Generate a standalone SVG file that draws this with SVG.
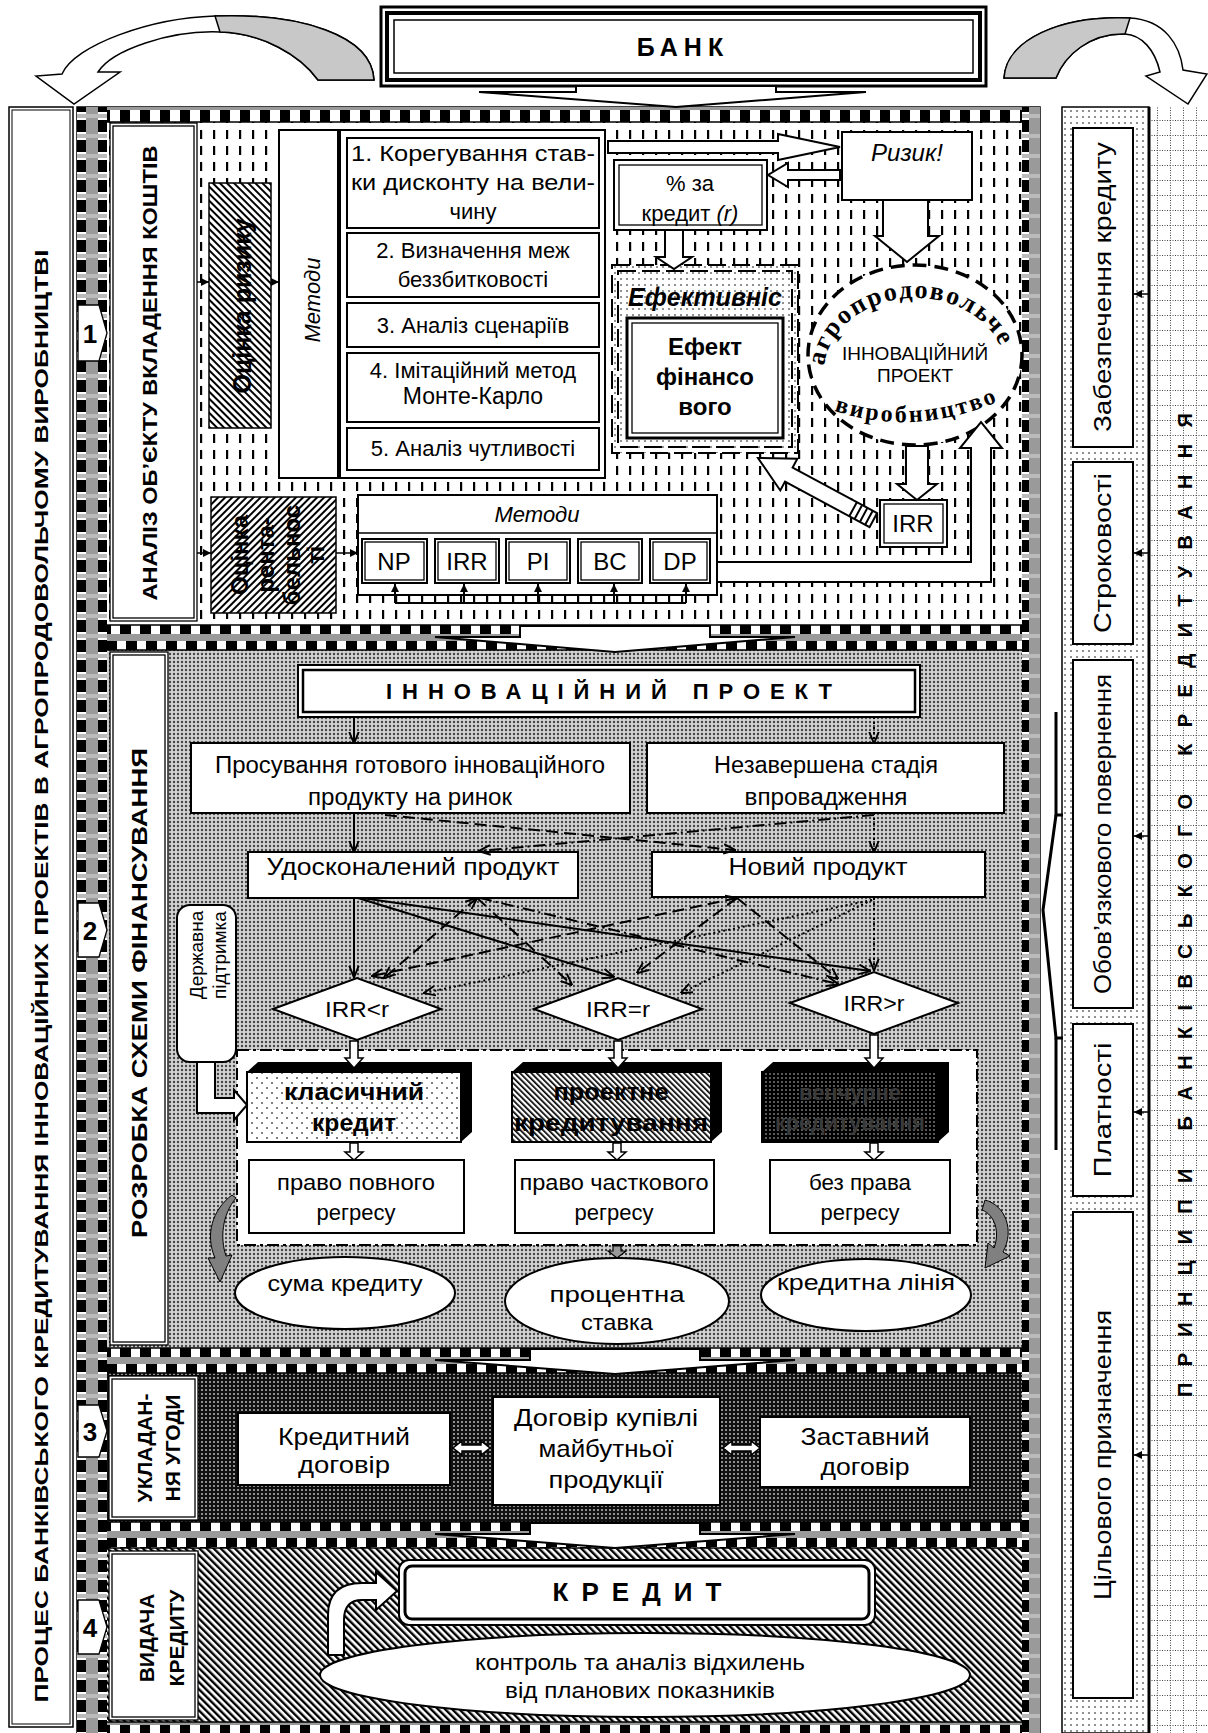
<svg xmlns="http://www.w3.org/2000/svg" width="1208" height="1733" viewBox="0 0 1208 1733">
<defs>
<style>
text{font-family:"Liberation Sans",Arial,sans-serif;fill:#000}
.n{font-family:"Liberation Sans Narrow","Liberation Sans",Arial,sans-serif}
.sr{font-family:"Liberation Serif","Times New Roman",serif;font-weight:bold}
.b{font-weight:bold}
.i{font-style:italic}
.m{text-anchor:middle}
.w{fill:#fff;stroke:#000;stroke-width:2}
.w1{fill:#fff;stroke:#000;stroke-width:1.3}
.no{fill:none;stroke:#000;stroke-width:1.3}
.ar{fill:#fff;stroke:#000;stroke-width:2;stroke-linejoin:miter}
.sl{stroke:#000;stroke-width:2;fill:none}
.ds{stroke:#000;stroke-width:2;fill:none;stroke-dasharray:12 6}
.dd{stroke:#000;stroke-width:2;fill:none;stroke-dasharray:12 4 2 4}
.dt{stroke:#000;stroke-width:2;fill:none;stroke-dasharray:2 3}
.blk{fill:#000}
</style>
<marker id="ah" viewBox="0 0 10 10" refX="9.5" refY="5" markerWidth="12" markerHeight="12" markerUnits="userSpaceOnUse" orient="auto-start-reverse"><path d="M0,1 L10,5 L0,9" fill="none" stroke="#000" stroke-width="1.6"/></marker>
<marker id="sa" viewBox="0 0 10 10" refX="10" refY="5" markerWidth="8" markerHeight="8" markerUnits="userSpaceOnUse" orient="auto"><path d="M0,0 L10,5 L0,10 Z" fill="#000"/></marker>
<pattern id="pVd" width="13" height="16" patternUnits="userSpaceOnUse"><rect width="13" height="16" fill="#fff"/><rect x="5" y="2" width="2.2" height="9" fill="#000"/></pattern>
<pattern id="pGr" width="4" height="4" patternUnits="userSpaceOnUse"><rect width="4" height="4" fill="#d2d2d2"/><circle cx="2" cy="2" r="1.2" fill="#444"/></pattern>
<pattern id="pDk" width="4" height="4" patternUnits="userSpaceOnUse"><rect width="4" height="4" fill="#111"/><circle cx="2" cy="2" r="1" fill="#bbb"/></pattern>
<pattern id="pH4" width="5" height="5" patternUnits="userSpaceOnUse" patternTransform="rotate(-45)"><rect width="5" height="5" fill="#fff"/><rect width="2.4" height="5" fill="#000"/></pattern>
<pattern id="pHr" width="5" height="5" patternUnits="userSpaceOnUse" patternTransform="rotate(-45)"><rect width="5" height="5" fill="#fff"/><rect width="2" height="5" fill="#000"/></pattern>
<pattern id="pHl" width="5" height="5" patternUnits="userSpaceOnUse" patternTransform="rotate(45)"><rect width="5" height="5" fill="#fff"/><rect width="2" height="5" fill="#000"/></pattern>
<pattern id="pFd" width="6" height="6" patternUnits="userSpaceOnUse"><rect width="6" height="6" fill="#fff"/><circle cx="3" cy="3" r="1.1" fill="#777"/></pattern>
<pattern id="pCl" width="10" height="10" patternUnits="userSpaceOnUse"><rect width="10" height="10" fill="#fff"/><circle cx="2" cy="3" r="1" fill="#555"/><circle cx="7" cy="8" r="1" fill="#555"/></pattern>
<pattern id="pPr" width="4" height="4" patternUnits="userSpaceOnUse" patternTransform="rotate(-45)"><rect width="4" height="4" fill="#fff"/><rect width="1.7" height="4" fill="#000"/></pattern>
<pattern id="pVn" width="4" height="4" patternUnits="userSpaceOnUse"><rect width="4" height="4" fill="#000"/><circle cx="2" cy="2" r="1" fill="#777"/></pattern>
<pattern id="pGd" width="13" height="15" patternUnits="userSpaceOnUse"><rect width="13" height="15" fill="#fff"/><line x1="0.5" y1="0" x2="0.5" y2="15" stroke="#444" stroke-dasharray="1 1.5"/><line x1="0" y1="0.5" x2="13" y2="0.5" stroke="#444" stroke-dasharray="1 1.5"/></pattern>
<pattern id="pSv" x="77" width="30" height="20" patternUnits="userSpaceOnUse"><rect width="30" height="20" fill="#fff"/><rect x="9" width="12" height="20" fill="#9a9a9a"/><rect width="9" height="12" fill="#000"/><rect x="21" width="9" height="12" fill="#000"/><rect y="14" width="30" height="4" fill="#bbb"/></pattern>
<pattern id="pSr" x="1022" width="18" height="20" patternUnits="userSpaceOnUse"><rect width="18" height="20" fill="#fff"/><rect x="7" width="11" height="20" fill="#9a9a9a"/><rect width="7" height="12" fill="#000"/><rect y="14" width="18" height="4" fill="#bbb"/></pattern>
<pattern id="pSh" width="20" height="25" patternUnits="userSpaceOnUse"><rect width="20" height="25" fill="#fff"/><rect y="9" width="20" height="7" fill="#9a9a9a"/><rect width="11" height="9" fill="#000"/><rect x="6" y="16" width="11" height="9" fill="#000"/></pattern>
<pattern id="pSt" width="20" height="15" patternUnits="userSpaceOnUse"><rect width="20" height="15" fill="#fff"/><rect y="0" width="20" height="3" fill="#9a9a9a"/><rect y="3" width="10" height="12" fill="#000"/></pattern>
<clipPath id="cR"><rect x="211" y="497" width="125" height="116"/></clipPath>
</defs>

<!-- top: bank -->
<g id="bank">
<rect x="381" y="7" width="605" height="79" fill="#fff" stroke="#000" stroke-width="3"/>
<rect x="387" y="13" width="593" height="67" fill="none" stroke="#000" stroke-width="4"/>
<rect x="394" y="20" width="579" height="53" fill="#fff" stroke="#000" stroke-width="1.5"/>
<text x="683" y="56" class="b m" font-size="25" letter-spacing="6">БАНК</text>
</g>
<g id="curved-arrows">
<path d="M374,80 C372,35 300,13 215,16 C150,18 75,45 62,74 L36,76 L74,104 L120,72 L98,72 C112,50 170,30 220,32 C262,33 300,55 318,80 Z" fill="#fff" stroke="#000" stroke-width="1.5"/>
<path d="M374,80 C372,35 300,13 215,16 L220,32 C262,33 300,55 318,80 Z" fill="#c8c8c8" stroke="#000" stroke-width="1.5"/>
<path d="M1004,78 C1006,40 1060,15 1130,18 C1165,20 1180,45 1183,70 L1207,74 L1188,104 L1146,76 L1160,72 C1155,50 1142,35 1125,34 C1090,33 1065,55 1056,78 Z" fill="#fff" stroke="#000" stroke-width="1.5"/>
<path d="M1004,78 C1006,40 1060,15 1130,18 L1125,34 C1090,33 1065,55 1056,78 Z" fill="#c8c8c8" stroke="#000" stroke-width="1.5"/>
</g>

<!-- left column -->
<g id="process-title">
<rect x="9" y="107" width="64" height="1620" fill="#fff" stroke="#000" stroke-width="1.5"/>
<rect x="12" y="110" width="58" height="1614" fill="none" stroke="#000" stroke-width="1"/>
<text transform="translate(48,976) rotate(-90)" class="b m" font-size="19" textLength="1453" lengthAdjust="spacingAndGlyphs">ПРОЦЕС БАНКІВСЬКОГО КРЕДИТУВАННЯ ІННОВАЦІЙНИХ ПРОЕКТІВ В АГРОПРОДОВОЛЬЧОМУ ВИРОБНИЦТВІ</text>
</g>

<!-- main frame -->
<g id="frame">
<rect x="77" y="107" width="963" height="1626" fill="#fff" stroke="#000" stroke-width="1.5"/>
<rect x="107" y="122" width="915" height="503" fill="url(#pVd)"/>
<rect x="107" y="650" width="915" height="698" fill="url(#pGr)"/>
<rect x="107" y="1373" width="915" height="149" fill="url(#pDk)"/>
<rect x="107" y="1548" width="915" height="174" fill="url(#pH4)"/>
<rect x="77" y="107" width="30" height="1626" fill="url(#pSv)"/>
<rect x="1022" y="107" width="18" height="1626" fill="url(#pSr)"/>
<g transform="translate(0,107)"><rect x="107" y="0" width="915" height="15" fill="url(#pSt)"/></g>
<g transform="translate(0,1722)"><rect x="107" y="0" width="915" height="11" fill="url(#pSt)"/></g>
<g transform="translate(0,625)"><rect x="107" y="0" width="915" height="25" fill="url(#pSh)"/></g>
<g transform="translate(0,1348)"><rect x="107" y="0" width="915" height="25" fill="url(#pSh)"/></g>
<g transform="translate(0,1522)"><rect x="107" y="0" width="915" height="26" fill="url(#pSh)"/></g>
<line x1="107" y1="122" x2="1022" y2="122" stroke="#000" stroke-width="1.5"/>
<line x1="107" y1="625" x2="1022" y2="625" stroke="#000" stroke-width="1.5"/>
<line x1="107" y1="650" x2="1022" y2="650" stroke="#000" stroke-width="1.5"/>
<line x1="107" y1="1348" x2="1022" y2="1348" stroke="#000" stroke-width="1.5"/>
<line x1="107" y1="1373" x2="1022" y2="1373" stroke="#000" stroke-width="1.5"/>
<line x1="107" y1="1522" x2="1022" y2="1522" stroke="#000" stroke-width="1.5"/>
<line x1="107" y1="1548" x2="1022" y2="1548" stroke="#000" stroke-width="1.5"/>
<line x1="107" y1="1722" x2="1022" y2="1722" stroke="#000" stroke-width="1.5"/>
</g>

<!-- stage labels -->
<g id="stage1-label">
<rect x="110" y="123" width="87" height="498" class="w1"/><rect x="113" y="126" width="81" height="492" class="no"/>
<text transform="translate(157,373) rotate(-90)" class="b m" font-size="20" textLength="455" lengthAdjust="spacingAndGlyphs">АНАЛІЗ ОБ’ЄКТУ ВКЛАДЕННЯ КОШТІВ</text>
</g>
<g id="stage2-label">
<rect x="110" y="652" width="58" height="693" class="w1"/><rect x="113" y="655" width="52" height="687" class="no"/>
<text transform="translate(147,993) rotate(-90)" class="b m" font-size="22" textLength="490" lengthAdjust="spacingAndGlyphs">РОЗРОБКА СХЕМИ ФІНАНСУВАННЯ</text>
</g>
<g id="stage3-label">
<rect x="109" y="1376" width="89" height="144" class="w1"/><rect x="112" y="1379" width="83" height="138" class="no"/>
<text transform="translate(152,1448) rotate(-90)" class="b m" font-size="21">УКЛАДАН-</text>
<text transform="translate(180,1448) rotate(-90)" class="b m" font-size="21">НЯ УГОДИ</text>
</g>
<g id="stage4-label">
<rect x="109" y="1551" width="89" height="169" class="w1"/><rect x="112" y="1554" width="83" height="163" class="no"/>
<text transform="translate(154,1638) rotate(-90)" class="b m" font-size="21">ВИДАЧА</text>
<text transform="translate(184,1638) rotate(-90)" class="b m" font-size="21">КРЕДИТУ</text>
</g>
<g id="tags">
<path d="M78,305 L99,305 L107,333 L99,361 L78,361 Z" class="w1"/><text x="90" y="343" class="b m" font-size="26">1</text>
<path d="M78,903 L99,903 L107,930 L99,957 L78,957 Z" class="w1"/><text x="90" y="940" class="b m" font-size="26">2</text>
<path d="M78,1405 L99,1405 L107,1431 L99,1457 L78,1457 Z" class="w1"/><text x="90" y="1441" class="b m" font-size="26">3</text>
<path d="M78,1600 L99,1600 L107,1627 L99,1654 L78,1654 Z" class="w1"/><text x="90" y="1637" class="b m" font-size="26">4</text>
</g>

<!-- section 1 -->
<g id="risk-assessment">
<rect x="209" y="183" width="62" height="245" fill="url(#pHr)" stroke="#000" stroke-width="1.5"/>
<text transform="translate(251,306) rotate(-90)" class="b m" font-size="25">Оцінка ризику</text>
</g>
<g id="methods-v">
<rect x="279" y="130" width="59" height="348" class="w"/>
<text transform="translate(320,300) rotate(-90)" class="i m" font-size="22">Методи</text>
</g>
<g id="methods-list">
<rect x="340" y="130" width="265" height="348" class="w"/>
<rect x="347" y="138" width="252" height="90" class="w"/>
<text x="473" y="161" class="m" font-size="22" textLength="244" lengthAdjust="spacingAndGlyphs">1. Корегування став-</text>
<text x="473" y="190" class="m" font-size="22" textLength="244" lengthAdjust="spacingAndGlyphs">ки дисконту на вели-</text>
<text x="473" y="219" class="m" font-size="22">чину</text>
<rect x="347" y="233" width="252" height="64" class="w"/>
<text x="473" y="258" class="m" font-size="22">2. Визначення меж</text>
<text x="473" y="287" class="m" font-size="22">беззбитковості</text>
<rect x="347" y="303" width="252" height="44" class="w"/>
<text x="473" y="333" class="m" font-size="22">3. Аналіз сценаріїв</text>
<rect x="347" y="353" width="252" height="69" class="w"/>
<text x="473" y="378" class="m" font-size="22">4. Імітаційний метод</text>
<text x="473" y="404" class="m" font-size="23">Монте-Карло</text>
<rect x="347" y="428" width="252" height="42" class="w"/>
<text x="473" y="456" class="m" font-size="22">5. Аналіз чутливості</text>
</g>
<g id="rate">
<rect x="614" y="160" width="153" height="70" class="w"/>
<rect x="619" y="165" width="143" height="60" class="no"/>
<text x="690" y="191" class="m" font-size="22">% за</text>
<text x="690" y="221" class="m" font-size="22">кредит <tspan class="i">(r)</tspan></text>
</g>
<g id="risk">
<rect x="842" y="132" width="130" height="68" class="w"/>
<text x="907" y="161" class="i m" font-size="24">Ризик!</text>
</g>
<g id="efficiency">
<rect x="612" y="265" width="186" height="188" fill="url(#pFd)" stroke="#000" stroke-width="2" stroke-dasharray="18 6"/>
<rect x="618" y="271" width="174" height="176" fill="none" stroke="#000" stroke-width="2" stroke-dasharray="18 6"/>
<text x="705" y="306" class="b i m" font-size="25">Ефективніс</text>
<rect x="627" y="318" width="156" height="120" fill="#fff" stroke="#000" stroke-width="3"/>
<rect x="632" y="323" width="146" height="110" class="no"/>
<text x="705" y="355" class="b m" font-size="24">Ефект</text>
<text x="705" y="385" class="b m" font-size="24">фінансо</text>
<text x="705" y="415" class="b m" font-size="24">вого</text>
</g>
<g id="innovation-circle">
<ellipse cx="915" cy="355" rx="107" ry="90" fill="#fff" stroke="#000" stroke-width="3.5" stroke-dasharray="14 8"/>
<path id="arcTop" d="M824,372 A91,74 0 0 1 1006,372" fill="none"/>
<path id="arcBot" d="M832,410 Q918,440 1010,396" fill="none"/>
<text class="sr" font-size="26" letter-spacing="2"><textPath href="#arcTop" startOffset="6">агропродовольче</textPath></text>
<text class="sr" font-size="24" letter-spacing="2.5"><textPath href="#arcBot" startOffset="2">виробництво</textPath></text>
<text x="915" y="360" class="m" font-size="19">ІННОВАЦІЙНИЙ</text>
<text x="915" y="382" class="m" font-size="19">ПРОЕКТ</text>
</g>
<g id="irr-box">
<rect x="880" y="500" width="67" height="47" class="w"/>
<rect x="884" y="504" width="59" height="39" class="no"/>
<text x="913" y="532" class="m" font-size="24">IRR</text>
</g>
<g id="profitability">
<rect x="211" y="497" width="125" height="116" fill="url(#pHl)" stroke="#000" stroke-width="1.5"/>
<g clip-path="url(#cR)">
<text transform="translate(248,555) rotate(-90)" class="b m" font-size="24">Оцінка</text>
<text transform="translate(274,555) rotate(-90)" class="b m" font-size="24">рента-</text>
<text transform="translate(300,555) rotate(-90)" class="b m" font-size="24">бельнос</text>
<text transform="translate(324,555) rotate(-90)" class="b m" font-size="24">ті</text>
</g>
</g>
<g id="methods-h">
<rect x="358" y="495" width="359" height="100" class="w"/>
<line x1="358" y1="533" x2="717" y2="533" stroke="#000" stroke-width="1.5"/>
<text x="537" y="522" class="i m" font-size="22">Методи</text>
<rect x="362" y="539" width="65" height="44" class="w"/><rect x="365" y="542" width="59" height="38" class="no"/><text x="394" y="570" class="m" font-size="24">NP</text>
<rect x="435" y="539" width="64" height="44" class="w"/><rect x="438" y="542" width="58" height="38" class="no"/><text x="467" y="570" class="m" font-size="24">IRR</text>
<rect x="506" y="539" width="64" height="44" class="w"/><rect x="509" y="542" width="58" height="38" class="no"/><text x="538" y="570" class="m" font-size="24">PI</text>
<rect x="578" y="539" width="64" height="44" class="w"/><rect x="581" y="542" width="58" height="38" class="no"/><text x="610" y="570" class="m" font-size="24">BC</text>
<rect x="650" y="539" width="60" height="44" class="w"/><rect x="653" y="542" width="54" height="38" class="no"/><text x="680" y="570" class="m" font-size="24">DP</text>
</g>

<!-- section 2 -->
<g id="innovation-project">
<rect x="298" y="665" width="622" height="52" class="w"/>
<rect x="303" y="670" width="612" height="42" fill="none" stroke="#000" stroke-width="2.5"/>
<text x="609" y="699" class="b m" font-size="22" textLength="446">ІННОВАЦІЙНИЙ ПРОЕКТ</text>
</g>
<g id="market">
<rect x="191" y="743" width="439" height="70" class="w"/>
<text x="410" y="773" class="n m" font-size="23" textLength="390" lengthAdjust="spacingAndGlyphs">Просування готового інноваційного</text>
<text x="410" y="805" class="n m" font-size="23" textLength="204" lengthAdjust="spacingAndGlyphs">продукту на ринок</text>
</g>
<g id="unfinished">
<rect x="647" y="743" width="357" height="70" class="w"/>
<text x="826" y="773" class="n m" font-size="23" textLength="224" lengthAdjust="spacingAndGlyphs">Незавершена стадія</text>
<text x="826" y="805" class="n m" font-size="23" textLength="163" lengthAdjust="spacingAndGlyphs">впровадження</text>
</g>
<g id="improved">
<rect x="248" y="852" width="330" height="46" class="w"/>
<text x="413" y="875" class="n m" font-size="24" textLength="293" lengthAdjust="spacingAndGlyphs">Удосконалений продукт</text>
</g>
<g id="new">
<rect x="652" y="852" width="333" height="45" class="w"/>
<text x="818" y="875" class="n m" font-size="24" textLength="179" lengthAdjust="spacingAndGlyphs">Новий продукт</text>
</g>
<g id="state-support">
<rect x="177" y="905" width="59" height="157" rx="13" class="w"/>
<text transform="translate(203,955) rotate(-90)" class="m" font-size="19">Державна</text>
<text transform="translate(226,955) rotate(-90)" class="m" font-size="19">підтримка</text>
</g>
<g id="irr-lt">
<path d="M273,1009 L357,978 L441,1009 L357,1040 Z" class="w"/>
<text x="357" y="1017" class="n m" font-size="22" textLength="64" lengthAdjust="spacingAndGlyphs">IRR&lt;r</text>
</g>
<g id="irr-eq">
<path d="M534,1009 L618,978 L702,1009 L618,1040 Z" class="w"/>
<text x="618" y="1017" class="n m" font-size="22" textLength="64" lengthAdjust="spacingAndGlyphs">IRR=r</text>
</g>
<g id="irr-gt">
<path d="M790,1003 L874,972 L958,1003 L874,1034 Z" class="w"/>
<text x="874" y="1011" class="n m" font-size="22" textLength="61" lengthAdjust="spacingAndGlyphs">IRR&gt;r</text>
</g>
<g id="credit-zone">
<rect x="237" y="1050" width="740" height="195" fill="#fff" stroke="#000" stroke-width="2" stroke-dasharray="12 4 3 4"/>
</g>
<g id="classic">
<rect x="247" y="1072" width="214" height="70" fill="url(#pCl)" stroke="#000" stroke-width="2"/>
<path d="M247,1072 L258,1062 L472,1062 L461,1072 Z M461,1072 L472,1062 L472,1132 L461,1142 Z" class="blk"/>
<text x="354" y="1100" class="n b m" font-size="24" textLength="140" lengthAdjust="spacingAndGlyphs">класичний</text>
<text x="354" y="1131" class="n b m" font-size="24" textLength="84" lengthAdjust="spacingAndGlyphs">кредит</text>
</g>
<g id="project-credit">
<rect x="512" y="1072" width="199" height="70" fill="url(#pPr)" stroke="#000" stroke-width="2"/>
<path d="M512,1072 L523,1062 L722,1062 L711,1072 Z M711,1072 L722,1062 L722,1132 L711,1142 Z" class="blk"/>
<text x="611" y="1100" class="n b m" font-size="24" textLength="115" lengthAdjust="spacingAndGlyphs">проектне</text>
<text x="611" y="1131" class="n b m" font-size="24" textLength="194" lengthAdjust="spacingAndGlyphs">кредитування</text>
</g>
<g id="venture">
<rect x="762" y="1072" width="176" height="70" fill="url(#pVn)" stroke="#000" stroke-width="2"/>
<path d="M762,1072 L773,1062 L949,1062 L938,1072 Z M938,1072 L949,1062 L949,1132 L938,1142 Z" class="blk"/>
<text x="850" y="1100" class="n b m" font-size="22" style="fill:#3a3a3a" textLength="102" lengthAdjust="spacingAndGlyphs">венчурне</text>
<text x="850" y="1130" class="n b m" font-size="22" style="fill:#3a3a3a" textLength="150" lengthAdjust="spacingAndGlyphs">кредитування</text>
</g>
<g id="recourse-full">
<rect x="249" y="1160" width="215" height="73" class="w"/>
<text x="356" y="1190" class="n m" font-size="22" textLength="158" lengthAdjust="spacingAndGlyphs">право повного</text>
<text x="356" y="1220" class="n m" font-size="22" textLength="79" lengthAdjust="spacingAndGlyphs">регресу</text>
</g>
<g id="recourse-part">
<rect x="515" y="1160" width="199" height="73" class="w"/>
<text x="614" y="1190" class="n m" font-size="22" textLength="189" lengthAdjust="spacingAndGlyphs">право часткового</text>
<text x="614" y="1220" class="n m" font-size="22" textLength="79" lengthAdjust="spacingAndGlyphs">регресу</text>
</g>
<g id="recourse-none">
<rect x="770" y="1160" width="180" height="73" class="w"/>
<text x="860" y="1190" class="n m" font-size="22" textLength="102" lengthAdjust="spacingAndGlyphs">без права</text>
<text x="860" y="1220" class="n m" font-size="22" textLength="79" lengthAdjust="spacingAndGlyphs">регресу</text>
</g>
<g id="amount">
<ellipse cx="345" cy="1293" rx="110" ry="36" class="w"/>
<text x="345" y="1291" class="n m" font-size="22" textLength="155" lengthAdjust="spacingAndGlyphs">сума кредиту</text>
</g>
<g id="interest">
<ellipse cx="617" cy="1301" rx="112" ry="43" class="w"/>
<text x="617" y="1302" class="n m" font-size="22" textLength="135" lengthAdjust="spacingAndGlyphs">процентна</text>
<text x="617" y="1330" class="n m" font-size="22" textLength="72" lengthAdjust="spacingAndGlyphs">ставка</text>
</g>
<g id="credit-line">
<ellipse cx="866" cy="1295" rx="105" ry="36" class="w"/>
<text x="866" y="1290" class="n m" font-size="22" textLength="178" lengthAdjust="spacingAndGlyphs">кредитна лінія</text>
</g>

<!-- section 3 -->
<g id="credit-contract">
<rect x="238" y="1413" width="212" height="72" class="w"/>
<text x="344" y="1445" class="n m" font-size="24" textLength="132" lengthAdjust="spacingAndGlyphs">Кредитний</text>
<text x="344" y="1473" class="n m" font-size="24" textLength="92" lengthAdjust="spacingAndGlyphs">договір</text>
</g>
<g id="purchase-contract">
<rect x="493" y="1397" width="227" height="108" class="w"/>
<text x="606" y="1426" class="n m" font-size="24" textLength="184" lengthAdjust="spacingAndGlyphs">Договір купівлі</text>
<text x="606" y="1457" class="n m" font-size="24" textLength="135" lengthAdjust="spacingAndGlyphs">майбутньої</text>
<text x="606" y="1488" class="n m" font-size="24" textLength="115" lengthAdjust="spacingAndGlyphs">продукції</text>
</g>
<g id="pledge-contract">
<rect x="760" y="1417" width="210" height="70" class="w"/>
<text x="865" y="1445" class="n m" font-size="24" textLength="129" lengthAdjust="spacingAndGlyphs">Заставний</text>
<text x="865" y="1475" class="n m" font-size="24" textLength="89" lengthAdjust="spacingAndGlyphs">договір</text>
</g>

<!-- section 4 -->
<g id="credit">
<rect x="399" y="1560" width="476" height="65" rx="10" class="w"/>
<rect x="405" y="1566" width="464" height="53" rx="7" fill="none" stroke="#000" stroke-width="3"/>
<text x="637" y="1601" class="b m" font-size="26" textLength="169">КРЕДИТ</text>
</g>
<g id="control">
<ellipse cx="645" cy="1675" rx="325" ry="42" class="w"/>
<text x="640" y="1670" class="n m" font-size="22" textLength="330" lengthAdjust="spacingAndGlyphs">контроль та аналіз відхилень</text>
<text x="640" y="1698" class="n m" font-size="22" textLength="270" lengthAdjust="spacingAndGlyphs">від планових показників</text>
</g>

<!-- right column -->
<g id="principles">
<rect x="1062" y="107" width="87" height="1626" fill="url(#pFd)" stroke="#000" stroke-width="1.5"/>
<rect x="1150" y="107" width="58" height="1626" fill="url(#pGd)"/>
<line x1="1149" y1="107" x2="1149" y2="1733" stroke="#000" stroke-width="3"/>
<text transform="translate(1192,905) rotate(-90)" class="b m" font-size="20" textLength="984">ПРИНЦИПИ БАНКІВСЬКОГО КРЕДИТУВАННЯ</text>
</g>
<g id="p-security">
<rect x="1073" y="128" width="60" height="319" class="w"/>
<text transform="translate(1111,287) rotate(-90)" class="n m" font-size="23" textLength="290" lengthAdjust="spacingAndGlyphs">Забезпечення кредиту</text>
</g>
<g id="p-term">
<rect x="1073" y="462" width="60" height="182" class="w"/>
<text transform="translate(1111,553) rotate(-90)" class="n m" font-size="23" textLength="160" lengthAdjust="spacingAndGlyphs">Строковості</text>
</g>
<g id="p-return">
<rect x="1073" y="660" width="60" height="348" class="w"/>
<text transform="translate(1111,834) rotate(-90)" class="n m" font-size="23" textLength="320" lengthAdjust="spacingAndGlyphs">Обов’язкового повернення</text>
</g>
<g id="p-pay">
<rect x="1073" y="1024" width="60" height="172" class="w"/>
<text transform="translate(1111,1110) rotate(-90)" class="n m" font-size="23" textLength="135" lengthAdjust="spacingAndGlyphs">Платності</text>
</g>
<g id="p-purpose">
<rect x="1073" y="1212" width="60" height="486" class="w"/>
<text transform="translate(1111,1455) rotate(-90)" class="n m" font-size="23" textLength="290" lengthAdjust="spacingAndGlyphs">Цільового призначення</text>
</g>

<!-- connectors -->
<g id="connectors">
<polygon points="576,86 776,86 776,92 866,92 676,107 479,92 576,92" class="ar"/>
<polygon points="520,626 710,626 710,637 795,637 615,652 435,637 520,637" class="ar"/>
<polygon points="530,1349 700,1349 700,1360 795,1360 615,1374 435,1360 530,1360" class="ar"/>
<polygon points="530,1523 700,1523 700,1534 795,1534 615,1548 435,1534 530,1534" class="ar"/>
<line x1="197" y1="282" x2="209" y2="282" stroke="#000" stroke-width="1.5" marker-end="url(#sa)"/>
<line x1="271" y1="282" x2="279" y2="282" stroke="#000" stroke-width="1.5" marker-end="url(#sa)"/>
<line x1="197" y1="553" x2="211" y2="553" stroke="#000" stroke-width="1.5" marker-end="url(#sa)"/>
<line x1="336" y1="553" x2="358" y2="553" stroke="#000" stroke-width="1.5" marker-end="url(#sa)"/>
<polyline points="395,603 686,603" class="sl"/>
<line x1="395" y1="603" x2="395" y2="584" stroke="#000" stroke-width="2" marker-end="url(#sa)"/>
<line x1="464" y1="603" x2="464" y2="584" stroke="#000" stroke-width="2" marker-end="url(#sa)"/>
<line x1="538" y1="603" x2="538" y2="584" stroke="#000" stroke-width="2" marker-end="url(#sa)"/>
<line x1="614" y1="603" x2="614" y2="584" stroke="#000" stroke-width="2" marker-end="url(#sa)"/>
<line x1="686" y1="603" x2="686" y2="584" stroke="#000" stroke-width="2" marker-end="url(#sa)"/>
<polygon points="608,141 778,141 778,134 840,147 778,160 778,153 608,153" class="ar"/>
<polygon points="840,170 788,170 788,163 768,175 788,187 788,180 840,180" class="ar"/>
<polygon points="665,230 683,230 683,257 692,257 674,269 656,257 665,257" class="ar"/>
<polygon points="883,200 928,200 928,236 939,236 907,262 875,236 883,236" class="ar"/>
<polygon points="906,446 928,446 928,484 937,484 917,500 897,484 906,484" class="ar"/>
<g transform="translate(758,458) rotate(28.3)">
<polygon points="0,0 35,-18 35,-8 131,-8 131,8 35,8 35,18" class="ar"/>
<path d="M108,-8 V8 M114,-8 V8 M120,-8 V8 M126,-8 V8" stroke="#000" stroke-width="2"/>
</g>
<polygon points="717,562 971,562 971,448 960,448 981,422 1002,448 991,448 991,582 717,582" class="ar"/>
<line x1="354" y1="717" x2="354" y2="743" class="sl" marker-end="url(#ah)"/>
<line x1="874" y1="717" x2="874" y2="743" class="dt" marker-end="url(#ah)"/>
<line x1="354" y1="813" x2="354" y2="852" class="sl" marker-end="url(#ah)"/>
<line x1="874" y1="813" x2="874" y2="852" class="dt" marker-end="url(#ah)"/>
<line x1="385" y1="815" x2="735" y2="850" class="ds" marker-end="url(#ah)"/>
<line x1="874" y1="815" x2="479" y2="851" class="dd" marker-end="url(#ah)"/>
<line x1="354" y1="898" x2="354" y2="977" class="sl" marker-end="url(#ah)"/>
<line x1="358" y1="898" x2="614" y2="977" class="sl" marker-end="url(#ah)"/>
<line x1="362" y1="898" x2="870" y2="971" class="sl" marker-end="url(#ah)"/>
<line x1="737" y1="898" x2="372" y2="976" class="ds" marker-start="url(#ah)" marker-end="url(#ah)"/>
<line x1="737" y1="898" x2="637" y2="973" class="ds" marker-end="url(#ah)"/>
<line x1="737" y1="898" x2="838" y2="979" class="ds" marker-end="url(#ah)"/>
<line x1="477" y1="898" x2="384" y2="978" class="ds" marker-start="url(#ah)" marker-end="url(#ah)"/>
<line x1="477" y1="898" x2="572" y2="985" class="dd" marker-end="url(#ah)"/>
<line x1="480" y1="898" x2="838" y2="984" class="dd" marker-end="url(#ah)"/>
<line x1="874" y1="898" x2="874" y2="970" class="dt" marker-end="url(#ah)"/>
<line x1="872" y1="900" x2="424" y2="993" class="dt" marker-end="url(#ah)"/>
<line x1="872" y1="900" x2="681" y2="993" class="dt" marker-end="url(#ah)"/>
<polygon points="350,1041 358,1041 358,1058 363,1058 354,1068 345,1058 350,1058" class="ar" style="stroke-width:1.5"/>
<polygon points="614,1041 622,1041 622,1058 627,1058 618,1068 609,1058 614,1058" class="ar" style="stroke-width:1.5"/>
<polygon points="870,1035 878,1035 878,1058 883,1058 874,1068 865,1058 870,1058" class="ar" style="stroke-width:1.5"/>
<polygon points="350,1143 358,1143 358,1152 363,1152 354,1160 345,1152 350,1152" class="ar" style="stroke-width:1.5"/>
<polygon points="613,1143 621,1143 621,1152 626,1152 617,1160 608,1152 613,1152" class="ar" style="stroke-width:1.5"/>
<polygon points="870,1143 878,1143 878,1152 883,1152 874,1160 865,1152 870,1152" class="ar" style="stroke-width:1.5"/>
<polygon points="613,1246 621,1246 621,1251 626,1251 617,1258 608,1251 613,1251" fill="#999" stroke="#000" stroke-width="1.2"/>
<polygon points="197,1062 215,1062 215,1098 234,1098 234,1090 247,1105 234,1120 234,1113 197,1113" class="ar"/>
<path d="M232,1195 C212,1210 205,1235 215,1258 L208,1258 L220,1282 L232,1255 L226,1256 C220,1238 222,1215 236,1198 Z" fill="#808080" stroke="#000" stroke-width="1"/>
<path d="M985,1200 C1005,1205 1015,1230 1003,1252 L1010,1256 L985,1268 L988,1243 L994,1248 C1000,1232 995,1215 982,1210 Z" fill="#808080" stroke="#000" stroke-width="1"/>
<polygon points="453,1448 462,1441 462,1445 481,1445 481,1441 490,1448 481,1455 481,1451 462,1451 462,1455" class="ar" style="stroke-width:1.5"/>
<polygon points="723,1448 732,1441 732,1445 751,1445 751,1441 760,1448 751,1455 751,1451 732,1451 732,1455" class="ar" style="stroke-width:1.5"/>
<path d="M328,1655 L328,1615 Q328,1583 362,1583 L376,1583 L376,1572 L397,1591 L376,1610 L376,1600 L362,1600 Q344,1600 344,1620 L344,1655 Z" class="ar"/>
<polyline points="1056,712 1056,815 1063,815" fill="none" stroke="#000" stroke-width="3"/>
<polyline points="1056,815 1043,910 1056,1038 1063,1038" fill="none" stroke="#000" stroke-width="3"/>
<polyline points="1056,1038 1056,1150" fill="none" stroke="#000" stroke-width="3"/>
<line x1="1150" y1="294" x2="1134" y2="294" stroke="#000" stroke-width="1.5" marker-end="url(#sa)"/>
<line x1="1150" y1="553" x2="1134" y2="553" stroke="#000" stroke-width="1.5" marker-end="url(#sa)"/>
<line x1="1150" y1="836" x2="1134" y2="836" stroke="#000" stroke-width="1.5" marker-end="url(#sa)"/>
<line x1="1150" y1="1112" x2="1134" y2="1112" stroke="#000" stroke-width="1.5" marker-end="url(#sa)"/>
<line x1="1150" y1="1455" x2="1134" y2="1455" stroke="#000" stroke-width="1.5" marker-end="url(#sa)"/>
</g>
</svg>
